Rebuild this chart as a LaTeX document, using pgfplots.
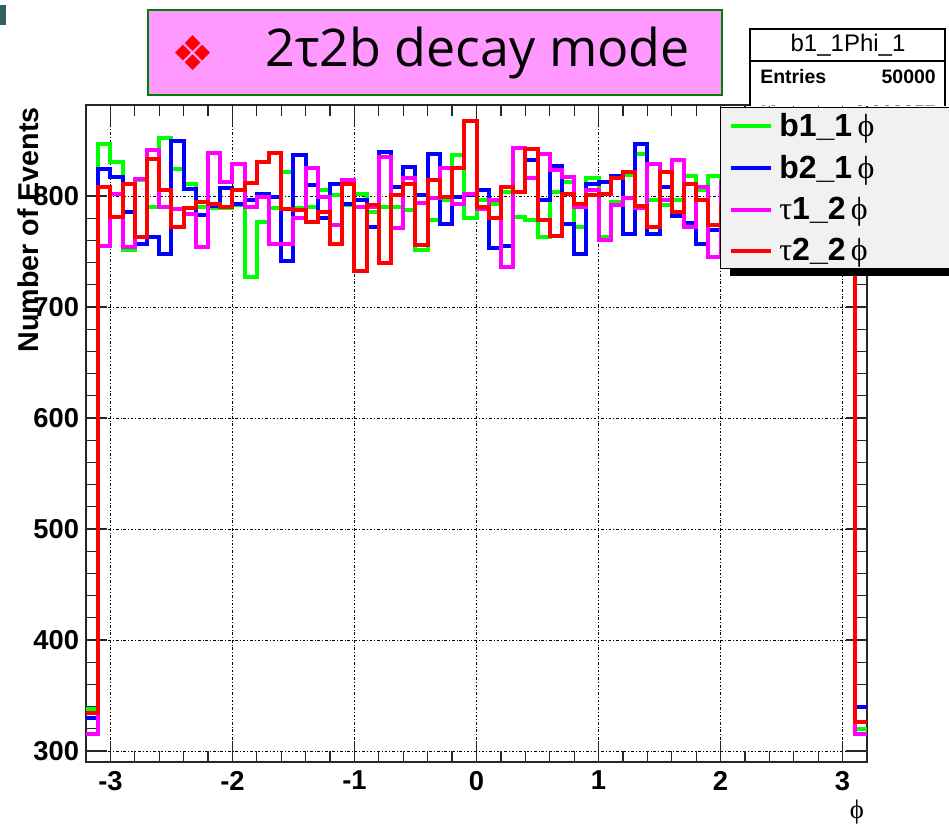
\documentclass[border=0pt]{standalone}
\usepackage{fontspec}
\setmainfont{Liberation Sans}
\newfontfamily\phifont{Liberation Serif}
\newfontfamily\titlefont{Open Sans}
\newfontfamily\symfont{DejaVu Sans}
\usepackage{pgfplots}
\pgfplotsset{compat=1.18}
\usepackage{pgfplotstable}
\definecolor{hgreen}{RGB}{0,255,0}
\definecolor{hblue}{RGB}{0,0,255}
\definecolor{hmag}{RGB}{255,0,255}
\definecolor{hred}{RGB}{255,0,0}
\definecolor{legfill}{RGB}{241,241,241}
\definecolor{titlepink}{RGB}{255,153,255}
\definecolor{titlegreen}{RGB}{0,128,0}
\definecolor{teal}{RGB}{47,95,95}
\pgfplotstableread{
x g b m r
-3.2 338 330 315 334
-3.1 847 824 755 808
-3.0 831 817 802 781
-2.9 751 786 754 811
-2.8 814 757 815 763
-2.7 790 763 841 833
-2.6 852 748 790 805
-2.5 824 850 788 772
-2.4 811 806 784 789
-2.3 790 783 754 795
-2.2 789 791 839 793
-2.1 789 807 813 790
-2.0 792 793 829 805
-1.9 727 796 790 812
-1.8 777 802 799 831
-1.7 789 799 757 839
-1.6 822 741 757 788
-1.5 789 837 780 787
-1.4 790 810 825 777
-1.3 805 780 799 786
-1.2 801 811 774 757
-1.1 792 793 814 811
-1.0 802 796 790 732
-0.9 786 772 790 792
-0.8 790 840 835 740
-0.7 790 808 771 801
-0.6 787 826 816 811
-0.5 751 801 794 756
-0.4 778 838 798 814
-0.3 796 775 825 799
-0.2 837 799 793 825
-0.1 780 801 802 868
0.0 796 805 788 790
0.1 793 753 796 780
0.2 804 755 736 808
0.3 781 843 843 804
0.4 778 832 816 842
0.5 763 796 838 778
0.6 804 827 823 764
0.7 813 775 817 802
0.8 772 748 790 793
0.9 816 811 805 801
1.0 763 813 760 802
1.1 795 818 792 816
1.2 819 766 798 822
1.3 838 847 789 791
1.4 796 766 829 772
1.5 792 808 796 822
1.6 796 782 832 786
1.7 818 776 772 811
1.8 805 757 808 796
1.9 818 769 745 774
2.0 800 795 812 790
2.1 785 810 790 805
2.2 812 788 798 797
2.3 795 803 781 812
2.4 808 792 806 788
2.5 790 815 795 801
2.6 803 785 810 794
2.7 797 800 789 808
2.8 811 794 802 799
2.9 792 806 797 803
3.0 805 798 808 792
3.1 320 340 315 326
3.2 320 340 315 326
}\histdata
\begin{document}
\begin{tikzpicture}[x=0.75pt,y=0.75pt]
\path[use as bounding box] (0,0) rectangle (949,828);
\begin{axis}[
  at={(64.5pt,49.5pt)}, anchor=south west,
  scale only axis, width=585.75pt, height=492.75pt,
  xmin=-3.2, xmax=3.2, ymin=290, ymax=882,
  xtick={-3,-2,-1,0,1,2,3},
  xticklabels={-3,-2,-1,0,1,2,3},
  ytick={300,400,500,600,700,800},
  yticklabels={300,400,500,600,700,800},
  minor x tick num=4, minor y tick num=4,
  tick align=inside,
  major tick length=16pt, minor tick length=8pt,
  grid=major,
  major grid style={black, line width=0.6pt, dash pattern=on 2pt off 1.5pt on 0.6pt off 1.5pt},
  axis line style={line width=1.1pt, black!85},
  every tick/.style={line width=0.9pt, black!85},
  ticklabel style={font=\fontsize{20.5pt}{24pt}\selectfont\bfseries},
  xticklabel style={anchor=north, inner sep=0pt, yshift=-6.5pt},
  yticklabel style={anchor=east, inner sep=0pt, xshift=-5pt},
  legend image code/.code={\draw[#1, sharp plot, line cap=butt] (0pt,0pt) -- (30pt,0pt);},
  legend cell align=left,
  legend style={name=leg, at={(0.8118,0.997)}, anchor=north west,
    fill=legfill, draw=black, line width=1pt,
    font=\fontsize{24pt}{28pt}\selectfont,
    inner xsep=6pt, inner ysep=2.5pt, row sep=8.5pt, column sep=3pt},
  every axis plot/.append style={const plot, line width=3pt, line join=miter, mark=none},
]
\addplot[hgreen] table[x=x,y=g]{\histdata};
\addlegendentry{\makebox[190pt][l]{\textbf{b1\_1}\,{\phifont ϕ}}}
\addplot[hblue] table[x=x,y=b]{\histdata};
\addlegendentry{\textbf{b2\_1}\,{\phifont ϕ}}
\addplot[hmag] table[x=x,y=m]{\histdata};
\addlegendentry{{\phifont τ}\textbf{1\_2}\,{\phifont ϕ}}
\addplot[hred] table[x=x,y=r]{\histdata};
\addlegendentry{{\phifont τ}\textbf{2\_2}\,{\phifont ϕ}}
\end{axis}
% legend shadow
\fill[black] ([xshift=7.5pt,yshift=0.5pt]leg.south west) rectangle ([xshift=7.5pt,yshift=-5.25pt]leg.south east);
% stats box (partly hidden behind the legend)
\begin{scope}
\clip (740,722.5) rectangle (949,828);
\draw[fill=white, line width=1.1pt] (750,799) rectangle (945,680);
\draw[line width=1.1pt] (750,767) -- (945,767);
\node[font=\fontsize{18pt}{20pt}\selectfont] at (848,783) {b1\_1Phi\_1};
\node[anchor=west, inner sep=0pt, font=\fontsize{14.6pt}{17pt}\selectfont\bfseries] at (760,751) {Entries};
\node[anchor=east, inner sep=0pt, font=\fontsize{14.6pt}{17pt}\selectfont\bfseries] at (936,751) {50000};
\node[anchor=west, inner sep=0pt, font=\fontsize{14.6pt}{17pt}\selectfont\bfseries] at (760,715) {Mean};
\node[anchor=east, inner sep=0pt, font=\fontsize{14.6pt}{17pt}\selectfont\bfseries] at (936,715) {0.003957};
\end{scope}
% title box
\draw[fill=titlepink, draw=titlegreen, line width=2.2pt] (148,818) rectangle (722,733);
\node[text=red, font=\fontsize{36pt}{40pt}\symfont] at (193,775) {❖};
\node[anchor=base west, inner sep=0pt, font=\fontsize{39pt}{44pt}\titlefont] at (265,761) {2τ2b decay mode};
% axis titles
\node[rotate=90, font=\fontsize{21.5pt}{24pt}\selectfont\bfseries] at (28,598) {Number of Events};
\node[font=\fontsize{20pt}{24pt}\phifont] at (857,16) {ϕ};
\fill[teal] (0,823) rectangle (6,803);
\end{tikzpicture}
\end{document}
